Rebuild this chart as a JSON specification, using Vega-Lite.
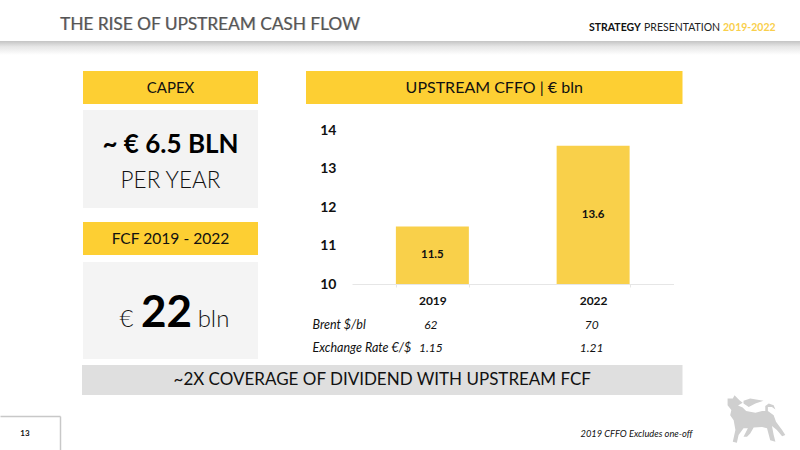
{
  "$schema": "https://vega.github.io/schema/vega-lite/v6.json",
  "padding": 0,
  "background": "white",
  "config": {
    "view": {"stroke": null},
    "font": "Lato",
    "text": {"font": "Lato", "color": "#111111"},
    "axis": {"labelFont": "Lato", "title": null}
  },
  "spacing": 0,
  "vconcat": [
    {
      "data": {"values": [{"title": "THE RISE OF UPSTREAM CASH FLOW", "a": "STRATEGY", "b": "PRESENTATION", "c": "2019-2022"}]},
      "width": 800,
      "height": 41,
      "layer": [
        {"mark": {"type": "text", "align": "left", "fontSize": 17.25, "dx": -339.3, "dy": 4.7, "color": "#bdbdbd"}, "encoding": {"text": {"field": "title"}}},
        {"mark": {"type": "text", "align": "left", "fontSize": 17.25, "dx": -340, "dy": 4, "color": "#555555"}, "encoding": {"text": {"field": "title"}}},
        {"mark": {"type": "text", "align": "left", "fontSize": 10.5, "fontWeight": "bold", "dx": 189, "dy": 7.5, "color": "#111111"}, "encoding": {"text": {"field": "a"}}},
        {"mark": {"type": "text", "align": "left", "fontSize": 10.5, "dx": 244, "dy": 7.5, "color": "#222222"}, "encoding": {"text": {"field": "b"}}},
        {"mark": {"type": "text", "align": "left", "fontSize": 10.5, "fontWeight": "bold", "dx": 323, "dy": 7.5, "color": "#f9cf4c"}, "encoding": {"text": {"field": "c"}}}
      ]
    },
    {
      "data": {"values": [{"part": "shadow"}]},
      "width": 800,
      "height": 14,
      "mark": {
        "type": "rect",
        "color": {"gradient": "linear", "x1": 0, "y1": 0, "x2": 0, "y2": 1, "stops": [{"offset": 0, "color": "#c4c4c4"}, {"offset": 0.4, "color": "#e6e6e6"}, {"offset": 1, "color": "#ffffff"}]}
      }
    },
    {"data": {"values": [{"gap": 1}]}, "mark": {"type": "rect", "opacity": 0}, "width": 800, "height": 16},
    {
      "spacing": 0,
      "hconcat": [
        {"data": {"values": [{"gap": 1}]}, "mark": {"type": "rect", "opacity": 0}, "width": 83, "height": 1},
        {
          "spacing": 14,
          "vconcat": [
            {
              "spacing": 6,
              "bounds": "flush",
              "vconcat": [
                {
                  "data": {"values": [{"label": "CAPEX"}]},
                  "width": 175,
                  "height": 33,
                  "view": {"fill": "#fdcf33"},
                  "mark": {"type": "text", "fontSize": 15},
                  "encoding": {"text": {"field": "label"}}
                },
                {
                  "data": {"values": [{"value": "~ € 6.5 BLN", "unit": "PER YEAR"}]},
                  "width": 175,
                  "height": 98,
                  "view": {"fill": "#f3f3f3"},
                  "layer": [
                    {"mark": {"type": "text", "fontSize": 26, "fontWeight": "bold", "dy": -14, "color": "#000000"}, "encoding": {"text": {"field": "value"}}},
                    {"mark": {"type": "text", "fontSize": 22.5, "fontWeight": "300", "dy": 22, "color": "#111111"}, "encoding": {"text": {"field": "unit"}}}
                  ]
                }
              ]
            },
            {
              "spacing": 7,
              "bounds": "flush",
              "vconcat": [
                {
                  "data": {"values": [{"label": "FCF 2019 - 2022"}]},
                  "width": 175,
                  "height": 33,
                  "view": {"fill": "#fdcf33"},
                  "mark": {"type": "text", "fontSize": 15.6},
                  "encoding": {"text": {"field": "label"}}
                },
                {
                  "data": {"values": [{"cur": "€", "value": "22", "unit": "bln"}]},
                  "width": 175,
                  "height": 97,
                  "view": {"fill": "#f4f4f4"},
                  "layer": [
                    {"mark": {"type": "text", "fontSize": 24, "baseline": "alphabetic", "fontWeight": "300", "dx": -44, "dy": 16}, "encoding": {"text": {"field": "cur"}}},
                    {"mark": {"type": "text", "fontSize": 44, "baseline": "alphabetic", "fontWeight": "bold", "dx": -4, "dy": 16, "color": "#000000"}, "encoding": {"text": {"field": "value"}}},
                    {"mark": {"type": "text", "fontSize": 24, "baseline": "alphabetic", "fontWeight": "300", "dx": 43, "dy": 16}, "encoding": {"text": {"field": "unit"}}}
                  ]
                }
              ]
            }
          ]
        },
        {"data": {"values": [{"gap": 1}]}, "mark": {"type": "rect", "opacity": 0}, "width": 47.5, "height": 1},
        {
          "spacing": 19.5,
          "vconcat": [
            {
              "data": {"values": [{"label": "UPSTREAM CFFO | € bln"}]},
              "width": 376.5,
              "height": 33,
              "view": {"fill": "#fdcf33"},
              "mark": {"type": "text", "fontSize": 16},
              "encoding": {"text": {"field": "label"}}
            },
            {
              "spacing": 0,
              "hconcat": [
                {"data": {"values": [{"gap": 1}]}, "mark": {"type": "rect", "opacity": 0}, "width": 6, "height": 1},
                {
                  "spacing": 28.5,
                  "bounds": "flush",
                  "vconcat": [
                    {
                      "data": {"values": [{"year": "2019", "cffo": 11.5}, {"year": "2022", "cffo": 13.6}]},
                      "width": 321.5,
                      "height": 153.5,
                      "encoding": {
                        "x": {
                          "field": "year",
                          "type": "nominal",
                          "scale": {"paddingInner": 0.546, "paddingOuter": 0.273},
                          "axis": {"labelAngle": 0, "labelFontSize": 12, "labelFontWeight": "bold", "labelColor": "#111111", "labelPadding": 8, "domainColor": "#e6e6e6", "tickColor": "#e6e6e6", "tickSize": 3, "tickBand": "extent"}
                        }
                      },
                      "resolve": {"scale": {"y": "independent"}, "axis": {"y": "independent"}},
                      "layer": [
                        {
                          "mark": {"type": "bar", "color": "#f9d04a"},
                          "encoding": {
                            "y": {
                              "field": "cffo",
                              "type": "quantitative",
                              "scale": {"domain": [10, 14], "zero": false},
                              "axis": {"values": [10, 11, 12, 13, 14], "labelOverlap": false, "grid": false, "domain": false, "ticks": false, "labelFontSize": 14, "labelFontWeight": "bold", "labelColor": "#111111", "labelPadding": 16}
                            },
                            "y2": {"datum": 10}
                          }
                        },
                        {
                          "mark": {"type": "text", "fontSize": 11.5, "fontWeight": "bold"},
                          "encoding": {
                            "y": {"field": "cffo", "type": "quantitative", "scale": {"domain": [10, 18], "zero": false}, "axis": null},
                            "text": {"field": "cffo", "type": "quantitative", "format": ".1f"}
                          }
                        }
                      ]
                    },
                    {
                      "data": {"values": [
                        {"row": "Brent $/bl", "year": "2019", "value": "62"},
                        {"row": "Brent $/bl", "year": "2022", "value": "70"},
                        {"row": "Exchange Rate €/$", "year": "2019", "value": "1.15"},
                        {"row": "Exchange Rate €/$", "year": "2022", "value": "1.21"}
                      ]},
                      "width": 321.5,
                      "height": 46,
                      "mark": {"type": "text", "fontSize": 12, "fontStyle": "italic", "dx": -1.5},
                      "encoding": {
                        "x": {"field": "year", "type": "nominal", "scale": {"paddingInner": 0.546, "paddingOuter": 0.273}, "axis": null},
                        "y": {
                          "field": "row",
                          "type": "nominal",
                          "sort": null,
                          "axis": {"domain": false, "ticks": false, "labelAlign": "left", "labelPadding": 40, "labelFontSize": 12.5, "labelFontStyle": "italic", "labelColor": "#111111", "labelLimit": 0}
                        },
                        "text": {"field": "value"}
                      }
                    }
                  ]
                }
              ]
            }
          ]
        }
      ]
    },
    {"data": {"values": [{"gap": 1}]}, "mark": {"type": "rect", "opacity": 0}, "width": 800, "height": 6},
    {
      "spacing": 0,
      "hconcat": [
        {"data": {"values": [{"gap": 1}]}, "mark": {"type": "rect", "opacity": 0}, "width": 81.5, "height": 1},
        {
          "data": {"values": [{"label": "~2X COVERAGE OF DIVIDEND WITH UPSTREAM FCF"}]},
          "width": 600.5,
          "height": 30,
          "view": {"fill": "#dfdfdf"},
          "mark": {"type": "text", "fontSize": 17},
          "encoding": {"text": {"field": "label"}}
        }
      ]
    },
    {
      "spacing": 0,
      "hconcat": [
        {
          "spacing": 0,
          "bounds": "flush",
          "vconcat": [
            {"data": {"values": [{"gap": 1}]}, "mark": {"type": "rect", "opacity": 0}, "width": 60, "height": 17},
            {
              "data": {"values": [{"page": "13"}]},
              "width": 60,
              "height": 36,
              "mark": {"type": "text", "fontSize": 8, "fontWeight": "bold", "dx": -5},
              "encoding": {
                "x": {"field": "page", "type": "nominal", "axis": {"orient": "top", "labels": false, "ticks": false, "domainColor": "#c8c8c8", "domainWidth": 1.5}},
                "y": {"field": "page", "type": "nominal", "axis": {"orient": "right", "labels": false, "ticks": false, "domainColor": "#c8c8c8", "domainWidth": 1.5}},
                "text": {"field": "page"}
              }
            }
          ]
        },
        {"data": {"values": [{"gap": 1}]}, "mark": {"type": "rect", "opacity": 0}, "width": 520, "height": 1},
        {
          "spacing": 0,
          "bounds": "flush",
          "vconcat": [
            {"data": {"values": [{"gap": 1}]}, "mark": {"type": "rect", "opacity": 0}, "width": 113, "height": 18},
            {
              "data": {"values": [{"note": "2019 CFFO Excludes one-off"}]},
              "width": 113,
              "height": 34,
              "mark": {"type": "text", "fontSize": 9.3, "fontStyle": "italic"},
              "encoding": {"text": {"field": "note"}}
            }
          ]
        },
        {"data": {"values": [{"gap": 1}]}, "mark": {"type": "rect", "opacity": 0}, "width": 33.3, "height": 1},
        {
          "data": {"values": [{"logo": "eni"}]},
          "width": 58,
          "height": 39,
          "mark": {
            "type": "point",
            "filled": true,
            "opacity": 1,
            "color": "#cfcfcf",
            "size": 3364,
            "shape": "M-0.98,-0.69L-0.80,-0.69L-0.74,-0.80L-0.57,-0.63L-0.46,-0.54L-0.62,-0.45L-0.46,-0.38L-0.34,-0.26L-0.02,-0.20L0.21,-0.26L0.32,-0.26L0.32,-0.43L0.44,-0.52L0.61,-0.46L0.67,-0.31L0.55,-0.40L0.41,-0.40L0.41,-0.26L0.61,-0.11L0.69,0.11L0.90,0.40L1.01,0.57L0.90,0.61L0.72,0.40L0.55,0.26L0.61,0.57L0.67,0.80L0.49,0.75L0.38,0.34L0.21,0.29L-0.08,0.31L-0.20,0.52L-0.31,0.63L-0.43,0.63L-0.28,0.34L-0.43,0.34L-0.60,0.57L-0.66,0.84L-0.80,0.80L-0.71,0.40L-0.77,0.06L-0.89,-0.11L-0.85,-0.29L-0.98,-0.46ZM-0.43,-0.61L-0.20,-0.69L0.26,-0.61L-0.02,-0.52L-0.25,-0.40L-0.43,-0.52Z"
          }
        }
      ]
    }
  ]
}
